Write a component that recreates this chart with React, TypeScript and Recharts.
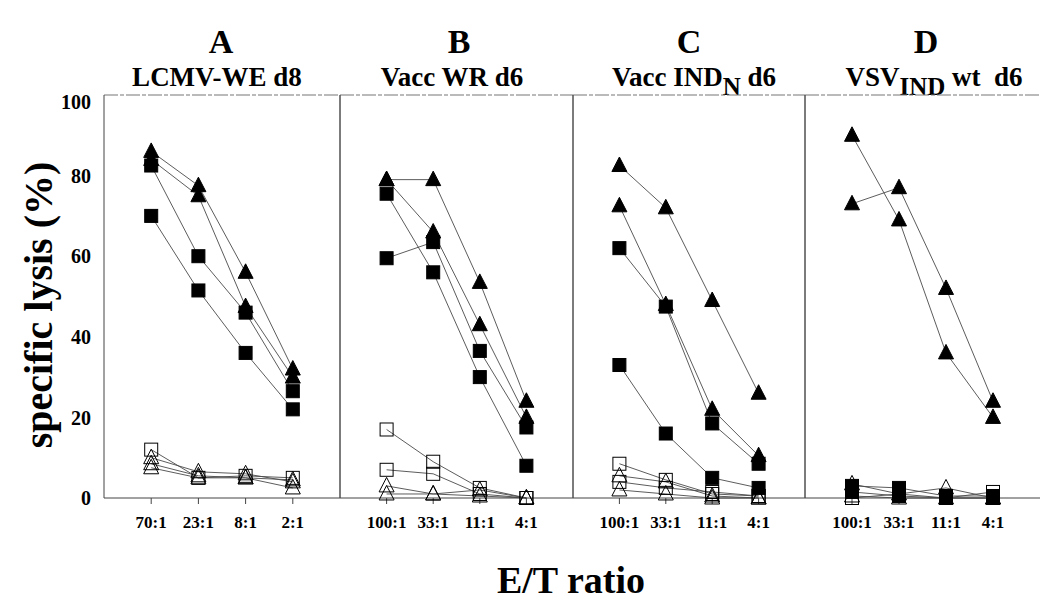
import React from 'react';
import { LineChart, Line, XAxis, YAxis, ReferenceLine } from 'recharts';

// effector/target ratios per panel
const ratiosA = ['70:1', '23:1', '8:1', '2:1'];
const ratiosBCD = ['100:1', '33:1', '11:1', '4:1'];
const yTicks = [0, 20, 40, 60, 80, 100];

const panelLetters = ['A', 'B', 'C', 'D'];
const panelSubtitles = [
  { main: 'LCMV-WE d8', sub: '', rest: '' },
  { main: 'Vacc WR d6', sub: '', rest: '' },
  { main: 'Vacc IND', sub: 'N', rest: ' d6' },
  { main: 'VSV', sub: 'IND', rest: ' wt  d6' },
];

// A: LCMV-WE d8
const aTri1 = [86, 77.5, 56, 32];
const aTri2 = [84, 75, 47.5, 30];
const aSq1 = [82.5, 60, 46, 26.5];
const aSq2 = [70, 51.5, 36, 22];
const aOpenSq1 = [12, 5, 5.5, 5];
const aOpenTri1 = [10, 6.5, 6, 4];
const aOpenTri2 = [8.5, 5.5, 5, 2.5];
const aOpenTri3 = [7.5, 5, 5, 4.5];

// B: Vacc WR d6
const bTri1 = [79, 79, 53.5, 24];
const bTri2 = [79, 66, 43, 20];
const bSq1 = [75.5, 56, 30, 8];
const bSq2 = [59.5, 63.5, 36.5, 17.5];
const bOpenSq1 = [17, 9, 2.5, 0];
const bOpenSq2 = [7, 6, 1, 0];
const bOpenTri1 = [3, 1, 2, 0];
const bOpenTri2 = [1, 1, 0.5, 0];

// C: Vacc IND(N) d6
const cTri1 = [82.5, 72, 49, 26];
const cTri2 = [72.5, 48, 22, 10.5];
const cSq1 = [62, 47.5, 18.5, 8.5];
const cSq2 = [33, 16, 5, 2.5];
const cOpenSq1 = [8.5, 4.5, 1, 0.5];
const cOpenTri1 = [5.5, 4, 0.5, 0];
const cOpenSq2 = [4, 2.5, 1.5, 0.5];
const cOpenTri2 = [2, 1, 0, 0];

// D: VSV(IND) wt d6
const dTri1 = [90, 69, 36, 20];
const dTri2 = [73, 77, 52, 24];
const dSq1 = [3, 2.5, 0.5, 0.5];
const dSq2 = [1.5, 0.5, 0, 0];
const dOpenTri1 = [3.5, 1, 2.5, 0];
const dOpenSq1 = [0, 1, 0, 1.5];
const dOpenTri2 = [0.5, 0, 0, 0];

type Shape = 'tri' | 'sq';
interface Series {
  vals: number[];
  shape: Shape;
  filled: boolean;
}

const s = (vals: number[], shape: Shape, filled: boolean): Series => ({ vals, shape, filled });

const panels = [
  {
    left: 104, right: 340, cats: ratiosA, titleX: 221, subX: 217,
    series: [
      s(aOpenSq1, 'sq', false), s(aOpenTri1, 'tri', false), s(aOpenTri2, 'tri', false), s(aOpenTri3, 'tri', false),
      s(aSq2, 'sq', true), s(aSq1, 'sq', true), s(aTri2, 'tri', true), s(aTri1, 'tri', true),
    ],
  },
  {
    left: 340, right: 573, cats: ratiosBCD, titleX: 459, subX: 452,
    series: [
      s(bOpenSq1, 'sq', false), s(bOpenSq2, 'sq', false), s(bOpenTri1, 'tri', false), s(bOpenTri2, 'tri', false),
      s(bSq2, 'sq', true), s(bSq1, 'sq', true), s(bTri2, 'tri', true), s(bTri1, 'tri', true),
    ],
  },
  {
    left: 573, right: 805, cats: ratiosBCD, titleX: 689, subX: 694,
    series: [
      s(cOpenSq1, 'sq', false), s(cOpenTri1, 'tri', false), s(cOpenSq2, 'sq', false), s(cOpenTri2, 'tri', false),
      s(cSq2, 'sq', true), s(cSq1, 'sq', true), s(cTri2, 'tri', true), s(cTri1, 'tri', true),
    ],
  },
  {
    left: 805, right: 1040, cats: ratiosBCD, titleX: 926, subX: 934,
    series: [
      s(dOpenTri1, 'tri', false), s(dOpenSq1, 'sq', false), s(dOpenTri2, 'tri', false),
      s(dSq2, 'sq', true), s(dSq1, 'sq', true), s(dTri2, 'tri', true), s(dTri1, 'tri', true),
    ],
  },
];

const FONT = "'Liberation Serif', 'Times New Roman', serif";
const PLOT_TOP = 95;
const PLOT_H = 403;
const AXIS_H = 45;
const AXIS_COLOR = '#444';

function Marker({ cx, cy, shape, filled }: any) {
  if (cx == null || cy == null) return null;
  const fill = filled ? '#000' : 'none';
  if (shape === 'sq') {
    return <rect x={cx - 6.5} y={cy - 6.5} width={13} height={13} fill={fill} stroke="#000" strokeWidth={1} />;
  }
  return (
    <polygon
      points={`${cx},${cy - 8.5} ${cx - 7.5},${cy + 6} ${cx + 7.5},${cy + 6}`}
      fill={fill}
      stroke="#000"
      strokeWidth={1}
    />
  );
}

function Panel({ panel, first, last }: { panel: (typeof panels)[number]; first: boolean; last: boolean }) {
  const data = panel.cats.map((_, i) => {
    const row: Record<string, number> = { x: i + 1 };
    panel.series.forEach((ser, k) => {
      row[`s${k}`] = ser.vals[i];
    });
    return row;
  });

  const labelW = first ? panel.left : 0;
  const chartLeft = first ? 0 : panel.left - 1;
  const width = panel.right - panel.left + labelW + (first ? 1 : 2);

  return (
    <div style={{ position: 'absolute', left: chartLeft, top: PLOT_TOP - 5 }}>
      <LineChart
        width={width}
        height={PLOT_H + AXIS_H + 5}
        data={data}
        margin={{ top: 5, right: 1, bottom: 0, left: first ? 0 : 1 }}
      >
        <XAxis
          dataKey="x"
          type="number"
          domain={[0, 5]}
          ticks={[1, 2, 3, 4]}
          tickFormatter={(v: number) => panel.cats[v - 1] ?? ''}
          height={AXIS_H}
          tickSize={6}
          tickMargin={12}
          stroke={AXIS_COLOR}
          tickLine={{ stroke: AXIS_COLOR }}
          tick={{ fontSize: 17, fontWeight: 'bold', fill: '#000', fontFamily: FONT }}
        />
        <YAxis
          yAxisId="y"
          domain={[0, 100]}
          ticks={yTicks}
          hide={!first}
          width={labelW}
          tickLine={false}
          axisLine={false}
          tickMargin={7}
          tick={{ fontSize: 20, fontWeight: 'bold', fill: '#000', fontFamily: FONT }}
        />
        <YAxis
          yAxisId="tl"
          domain={[0, 100]}
          ticks={yTicks}
          mirror
          tick={false}
          tickSize={6}
          stroke={AXIS_COLOR}
        />
        {!last && (
          <YAxis
            yAxisId="tr"
            orientation="right"
            domain={[0, 100]}
            ticks={yTicks}
            mirror
            tick={false}
            tickSize={6}
            stroke="#666"
          />
        )}
        <ReferenceLine yAxisId="y" y={100} stroke="#777" strokeWidth={1.2} strokeDasharray="14 2 4 2" />
        {panel.series.map((ser, k) => (
          <Line
            key={k}
            yAxisId="y"
            dataKey={`s${k}`}
            type="linear"
            stroke="#4a4a4a"
            strokeWidth={0.9}
            isAnimationActive={false}
            dot={(p: any) => (
              <Marker key={`d${k}-${p.index}`} cx={p.cx} cy={p.cy} shape={ser.shape} filled={ser.filled} />
            )}
            activeDot={false}
          />
        ))}
      </LineChart>
    </div>
  );
}

export default function App() {
  return (
    <div
      style={{
        position: 'absolute',
        left: 0,
        top: 0,
        width: 1044,
        height: 605,
        background: '#fff',
        fontFamily: FONT,
        fontWeight: 'bold',
        color: '#000',
        overflow: 'hidden',
      }}
    >
      {panels.map((p, i) => (
        <div
          key={`t${i}`}
          style={{ position: 'absolute', left: p.titleX, top: 42, transform: 'translate(-50%, -50%)', fontSize: 34 }}
        >
          {panelLetters[i]}
        </div>
      ))}
      {panels.map((p, i) => {
        const sub = panelSubtitles[i];
        return (
          <div
            key={`s${i}`}
            style={{
              position: 'absolute',
              left: p.subX,
              top: 77,
              transform: 'translate(-50%, -50%)',
              fontSize: 27,
              whiteSpace: 'pre',
            }}
          >
            {sub.main}
            {sub.sub && <span style={{ position: 'relative', top: 9, fontSize: 25 }}>{sub.sub}</span>}
            {sub.rest}
          </div>
        );
      })}
      <div
        style={{
          position: 'absolute',
          left: 38,
          top: 305,
          transform: 'translate(-50%, -50%) rotate(-90deg)',
          fontSize: 40,
          whiteSpace: 'nowrap',
        }}
      >
        specific lysis (%)
      </div>
      {panels.map((p, i) => (
        <Panel key={`p${i}`} panel={p} first={i === 0} last={i === panels.length - 1} />
      ))}
      <div
        style={{ position: 'absolute', left: 571, top: 580, transform: 'translate(-50%, -50%)', fontSize: 38 }}
      >
        E/T ratio
      </div>
    </div>
  );
}
